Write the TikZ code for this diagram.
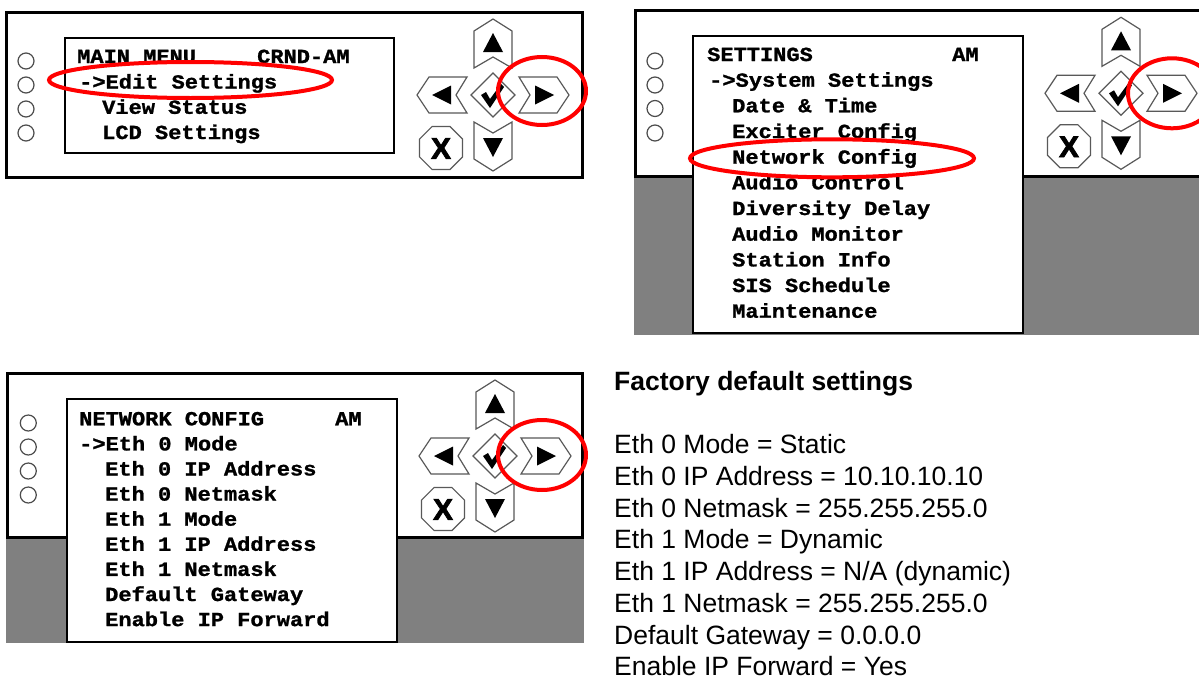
\documentclass[tikz,border=0pt]{standalone}
\usepackage{fontspec}
\setmainfont{Liberation Sans}
\newfontfamily\lcdfont[FakeStretch=1.1, FakeBold=1.2]{Liberation Mono}
\newfontfamily\heavyfont[FakeBold=2.5]{Liberation Sans}
\usetikzlibrary{shapes.geometric}
\tikzset{
  panel/.style={draw=black, line width=3pt, fill=white},
  lcdbox/.style={draw=black, line width=2.2pt, fill=white},
  graybg/.style={fill=black!50, draw=none},
  led/.style={draw=black!70, line width=1.2pt, fill=white},
  btn/.style={draw=black!65, line width=1.2pt, fill=white, line join=miter},
  tri/.style={fill=black, draw=none},
  hilite/.style={draw=red, line width=4pt},
  lcd/.style={font=\lcdfont\bfseries\fontsize{20}{23}\selectfont, inner sep=0pt, anchor=base west},
  info/.style={font=\fontsize{26.5}{31.75}\selectfont, inner sep=0pt, anchor=base west},
  infohead/.style={font=\bfseries\fontsize{26.5}{31.75}\selectfont, inner sep=0pt, anchor=base west},
  keypad/.pic={
    % up
    \path[btn] (0,-76) -- (19,-64) -- (19,-27) -- (0,-38) -- (-19,-27) -- (-19,-64) -- cycle;
    \path[tri] (0,-62) -- (10,-43) -- (-10,-43) -- cycle;
    % down
    \path[btn] (0,76) -- (19,64) -- (19,27) -- (0,38) -- (-19,27) -- (-19,64) -- cycle;
    \path[tri] (0,62) -- (10,43) -- (-10,43) -- cycle;
    % left
    \path[btn] (-76,0) -- (-64,-18) -- (-26,-18) -- (-37,0) -- (-26,18) -- (-64,18) -- cycle;
    \path[tri] (-61,0) -- (-42,-9.5) -- (-42,9.5) -- cycle;
    % right
    \path[btn] (76,0) -- (64,-18) -- (26,-18) -- (37,0) -- (26,18) -- (64,18) -- cycle;
    \path[tri] (61,0) -- (42,-9.5) -- (42,9.5) -- cycle;
    % check
    \path[btn] (0,-22) -- (22,0) -- (0,22) -- (-22,0) -- cycle;
    \path[tri] (-12,0) -- (-7,-3) -- (-3,4) -- (8,-11) -- (11,-8) -- (-3,13) -- cycle;
    % cancel
    \path[btn] (-43.1,31.5) -- (-30.5,44.1) -- (-30.5,61.9) -- (-43.1,74.5) -- (-60.9,74.5) -- (-73.5,61.9) -- (-73.5,44.1) -- (-60.9,31.5) -- cycle;
    \node[font=\heavyfont\bfseries\fontsize{30}{30}\selectfont, inner sep=0pt] (xkey) at (-52,53.5) {X};
  }
}
\begin{document}
\begin{tikzpicture}[x=1pt, y=-1pt]
\useasboundingbox (0,0) rectangle (1199,680);
\clip (0,0) rectangle (1199,680);

% ---------- panel 1 ----------
\path[panel] (6,12.3) rectangle (582,177);
\path[lcdbox] (65,37.7) rectangle (394,152.7);
\foreach \yy in {61,85,109,133} \path[led] (26,\yy) circle[radius=8pt];
\pic at (493,95) {keypad};
\node[lcd] (m1h) at (77,63) {MAIN MENU};
\node[lcd] (m1r) at (257,63) {CRND-AM};
\node[lcd] (m1a) at (79,88.5) {->Edit Settings};
\node[lcd] (m1b) at (102,113.8) {View Status};
\node[lcd] (m1c) at (102,139) {LCD Settings};

% ---------- panel 2 ----------
\path[panel] (635,10) rectangle (1215,176.7);
\path[graybg] (633.5,178.2) rectangle (1215,335);
\path[lcdbox] (693.3,36) rectangle (1022.7,333.3);
\foreach \yy in {61,85,108.5,133} \path[led] (655,\yy) circle[radius=8pt];
\pic at (1121,93.3) {keypad};
\node[lcd] (m2h) at (707,61) {SETTINGS};
\node[lcd] (m2r) at (952,61) {AM};
\node[lcd] (m2a) at (709,86.7) {->System Settings};
\node[lcd] (m2b) at (732,112.3) {Date \& Time};
\node[lcd] (m2c) at (732,138) {Exciter Config};
\node[lcd] (m2d) at (732,163.7) {Network Config};
\node[lcd] (m2e) at (732,189.3) {Audio Control};
\node[lcd] (m2f) at (732,215) {Diversity Delay};
\node[lcd] (m2g) at (732,240.7) {Audio Monitor};
\node[lcd] (m2i) at (732,266.4) {Station Info};
\node[lcd] (m2j) at (732,292) {SIS Schedule};
\node[lcd] (m2k) at (732,317.7) {Maintenance};

% ---------- panel 3 ----------
\path[panel] (7.3,373.3) rectangle (582,537);
\path[graybg] (5.8,538.5) rectangle (583.5,643);
\path[lcdbox] (66.7,399.3) rectangle (397,642);
\foreach \yy in {423,447,471,495} \path[led] (28.3,\yy) circle[radius=8pt];
\pic at (495,456) {keypad};
\node[lcd] (m3h) at (79,425.3) {NETWORK CONFIG};
\node[lcd] (m3r) at (335,425.3) {AM};
\node[lcd] (m3a) at (79,450.4) {->Eth 0 Mode};
\node[lcd] (m3b) at (105,475.5) {Eth 0 IP Address};
\node[lcd] (m3c) at (105,500.6) {Eth 0 Netmask};
\node[lcd] (m3d) at (105,525.7) {Eth 1 Mode};
\node[lcd] (m3e) at (105,550.8) {Eth 1 IP Address};
\node[lcd] (m3f) at (105,575.9) {Eth 1 Netmask};
\node[lcd] (m3g) at (105,601) {Default Gateway};
\node[lcd] (m3i) at (105,626.1) {Enable IP Forward};

% ---------- factory defaults ----------
\node[infohead] (fhead) at (614,390) {Factory default settings};
\node[info] (f1) at (614,453.5) {Eth 0 Mode = Static};
\node[info] (f2) at (614,485.25) {Eth 0 IP Address = 10.10.10.10};
\node[info] (f3) at (614,517) {Eth 0 Netmask = 255.255.255.0};
\node[info] (f4) at (614,548.75) {Eth 1 Mode = Dynamic};
\node[info] (f5) at (614,580.5) {Eth 1 IP Address = N/A (dynamic)};
\node[info] (f6) at (614,612.25) {Eth 1 Netmask = 255.255.255.0};
\node[info] (f7) at (614,644) {Default Gateway = 0.0.0.0};
\node[info] (f8) at (614,675.75) {Enable IP Forward = Yes};

% ---------- red highlights ----------
\draw[hilite] (190.5,80) ellipse[x radius=141.5pt, y radius=18pt];
\draw[hilite] (832,158.3) ellipse[x radius=142pt, y radius=19pt];
\draw[hilite] (542,91) ellipse[x radius=44pt, y radius=34pt];
\draw[hilite] (1172,93.3) ellipse[x radius=44pt, y radius=35pt];
\draw[hilite] (542,455) ellipse[x radius=44pt, y radius=35pt];
\end{tikzpicture}
\end{document}
